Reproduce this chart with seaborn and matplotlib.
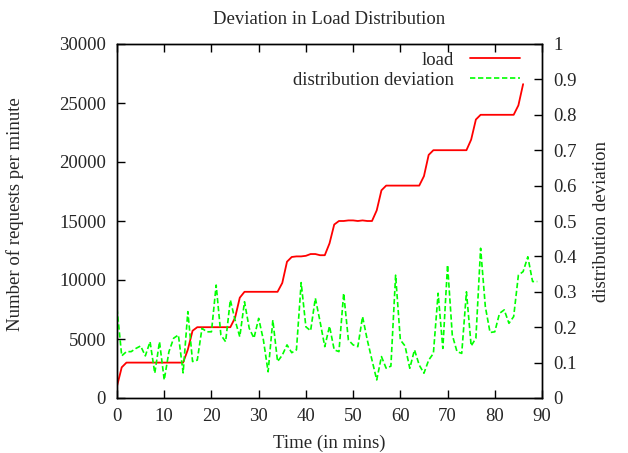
import numpy as np
import pandas as pd
import matplotlib
matplotlib.use("Agg")
import matplotlib.pyplot as plt
import seaborn as sns

# Requests per minute, sampled once a minute
load_minutes = list(range(0, 87))
load_values = [
    1000, 2600, 3000, 3000, 3000, 3000, 3000, 3000, 3000, 3000,
    3000, 3000, 3000, 3000, 3000, 4100, 5700, 6000, 6000, 6000,
    6000, 6000, 6000, 6000, 6000, 6800, 8500, 9000, 9000, 9000,
    9000, 9000, 9000, 9000, 9000, 9750, 11550, 11950, 12000, 12000,
    12050, 12200, 12200, 12100, 12100, 13100, 14700, 15000, 15000, 15050,
    15050, 15000, 15050, 15000, 15000, 15900, 17600, 18000, 18000, 18000,
    18000, 18000, 18000, 18000, 18000, 18800, 20600, 21000, 21000, 21000,
    21000, 21000, 21000, 21000, 21000, 21900, 23600, 24000, 24000, 24000,
    24000, 24000, 24000, 24000, 24000, 24800, 26600,
]

# Deviation of the load distribution, one value per minute
dev_minutes = list(range(0, 90))
dev_values = [
    0.253, 0.119, 0.131, 0.131, 0.140, 0.147, 0.119, 0.159, 0.070, 0.159,
    0.051, 0.131, 0.169, 0.178, 0.071, 0.244, 0.103, 0.107, 0.197, 0.187,
    0.187, 0.319, 0.178, 0.159, 0.277, 0.220, 0.173, 0.272, 0.197, 0.169,
    0.225, 0.164, 0.074, 0.220, 0.103, 0.121, 0.150, 0.128, 0.136, 0.326,
    0.201, 0.190, 0.282, 0.216, 0.145, 0.203, 0.136, 0.131, 0.296, 0.164,
    0.150, 0.145, 0.230, 0.164, 0.107, 0.051, 0.117, 0.084, 0.090, 0.347,
    0.164, 0.147, 0.084, 0.136, 0.093, 0.070, 0.107, 0.126, 0.296, 0.140,
    0.376, 0.178, 0.131, 0.126, 0.300, 0.147, 0.169, 0.423, 0.258, 0.185,
    0.187, 0.239, 0.249, 0.211, 0.230, 0.347, 0.357, 0.399, 0.329, 0.329,
]

x_ticks = list(range(0, 91, 10))
left_ticks = list(range(0, 30001, 5000))
right_ticks = [0, 0.1, 0.2, 0.3, 0.4, 0.5, 0.6, 0.7, 0.8, 0.9, 1]
right_tick_labels = ["0", "0.1", "0.2", "0.3", "0.4", "0.5", "0.6", "0.7", "0.8", "0.9", "1"]

load_df = pd.DataFrame({"minute": load_minutes, "load": load_values})
dev_df = pd.DataFrame({"minute": dev_minutes, "deviation": dev_values})

sns.set_style("ticks")
plt.rcParams["font.family"] = ["Liberation Serif", "DejaVu Serif"]
plt.rcParams["font.size"] = 13.5
plt.rcParams["xtick.direction"] = "in"
plt.rcParams["ytick.direction"] = "in"

fig = plt.figure(figsize=(6.28, 4.53), dpi=100)
ax = fig.add_axes([117 / 628, 1 - 398 / 453, 425 / 628, 354 / 453])
ax2 = ax.twinx()

sns.lineplot(data=load_df, x="minute", y="load", ax=ax, color="#ff0000",
             linewidth=1.3, label="load", legend=False)
sns.lineplot(data=dev_df, x="minute", y="deviation", ax=ax2, color="#00ff00",
             linewidth=1.2, linestyle=(0, (3.2, 1.6)),
             label="distribution deviation", legend=False)

ax.set_xlim(0, 90)
ax.set_ylim(0, 30000)
ax2.set_ylim(0, 1)
ax.set_xticks(x_ticks)
ax.set_xticklabels([str(v) for v in x_ticks])
ax.set_yticks(left_ticks)
ax.set_yticklabels([str(v) for v in left_ticks])
ax2.set_yticks(right_ticks)
ax2.set_yticklabels(right_tick_labels)

ax.tick_params(axis="x", which="both", top=True, bottom=True, direction="in",
               length=6, width=1, color="black", pad=7, labelsize=13.5)
ax.tick_params(axis="y", left=True, right=False, direction="in",
               length=6, width=1, color="black", pad=8, labelsize=13.5)
ax2.tick_params(axis="y", right=True, left=False, direction="in",
                length=6, width=1, color="black", pad=8, labelsize=13.5)

for a in (ax, ax2):
    for s in a.spines.values():
        s.set_color("black")
        s.set_linewidth(1.0)

ax.set_xlabel("Time (in mins)", labelpad=7)
ax.set_ylabel("Number of requests per minute")
ax.yaxis.set_label_coords(-0.219, 0.52)
ax2.set_ylabel("distribution deviation", labelpad=12)

fig.suptitle("Deviation in Load Distribution", x=329 / 628, y=1 - 11 / 453,
             fontsize=13.5, va="top")

handles = ax.get_lines()[:1] + ax2.get_lines()[:1]
labels = [h.get_label() for h in handles]
ax2.legend(handles, labels, loc="upper right",
           bbox_to_anchor=(0.948, 0.978), frameon=False, markerfirst=False,
           handlelength=2.65, handletextpad=0.85, labelspacing=0.15,
           borderpad=0, borderaxespad=0, fontsize=13.5)

fig.savefig("out.png", dpi=100, facecolor="white")
